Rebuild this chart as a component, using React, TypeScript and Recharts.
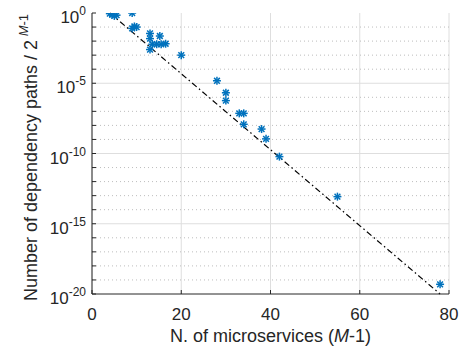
import React from 'react';
import {
  CartesianGrid,
  ReferenceLine,
  Scatter,
  ScatterChart,
  XAxis,
  YAxis,
} from 'recharts';

// observed systems: N. of microservices (M-1) vs normalised dependency paths
const microservices = [
  4, 4.5, 5, 5.5, 9, 9, 9.5, 10, 13, 13, 13, 13.5, 14.5, 15.5, 16.5, 15.2, 20,
  28, 30, 30, 33, 34, 34, 38, 39, 42, 55, 78,
];
const pathRatio = [
  0.9, 0.78, 0.62, 0.7, 1, 0.08, 0.11, 0.1, 0.035, 0.015, 0.0025, 0.006, 0.006, 0.006, 0.0065, 0.023, 0.001,
  1.5e-5, 2.1e-6, 5.8e-7, 7.2e-8, 7.2e-8, 1.2e-8, 5.5e-9, 1.1e-9, 6e-11, 8.5e-14, 4.9e-20,
];

// dash-dot reference trend
const fitX = [4, 78];
const fitY = [1, 1e-20];

const xTicks = [0, 20, 40, 60, 80];
const decades = [0, -1, -2, -3, -4, -5, -6, -7, -8, -9, -10, -11, -12, -13, -14, -15, -16, -17, -18, -19, -20];
const yTicks = decades.map((e) => Math.pow(10, e));

const points = microservices.map((x, i) => ({ x, y: pathRatio[i] }));

const FONT = '"Liberation Sans", Arial, sans-serif';
const INK = '#262626';
const BLUE = '#0072BD';

const Asterisk = (props: any) => {
  const { cx, cy } = props;
  if (cx == null || cy == null) return null;
  const r = 4;
  const d = r * 0.72;
  return (
    <g stroke={BLUE} strokeWidth={1.5}>
      <line x1={cx - r} y1={cy} x2={cx + r} y2={cy} />
      <line x1={cx} y1={cy - r} x2={cx} y2={cy + r} />
      <line x1={cx - d} y1={cy - d} x2={cx + d} y2={cy + d} />
      <line x1={cx - d} y1={cy + d} x2={cx + d} y2={cy - d} />
    </g>
  );
};

const LeftTick = ({ x, y, payload }: any) => {
  const e = Math.round(Math.log10(payload.value));
  const major = e % 5 === 0;
  return (
    <g>
      <line x1={x} x2={x + 4} y1={y} y2={y} stroke={INK} />
      {major && (
        <text x={x - 6} y={y + 10} textAnchor="end" fontSize={17} fill={INK} fontFamily={FONT}>
          <tspan>10</tspan>
          <tspan dy={-8} fontSize={12}>{e}</tspan>
        </text>
      )}
    </g>
  );
};

const RightTick = ({ x, y }: any) => <line x1={x} x2={x - 4} y1={y} y2={y} stroke={INK} />;

const BottomTick = ({ x, y, payload }: any) => (
  <g>
    <line x1={x} x2={x} y1={y} y2={y - 4} stroke={INK} />
    <text x={x} y={y + 26} textAnchor="middle" fontSize={17} fill={INK} fontFamily={FONT}>
      {payload.value}
    </text>
  </g>
);

const TopTick = ({ x, y }: any) => <line x1={x} x2={x} y1={y} y2={y + 4} stroke={INK} />;

const XTitle = ({ viewBox }: any) => {
  const cx = viewBox.x + viewBox.width / 2;
  return (
    <text x={cx} y={viewBox.y + 48} textAnchor="middle" fontSize={18} fill={INK} fontFamily={FONT}>
      N. of microservices (<tspan fontStyle="italic">M</tspan>-1)
    </text>
  );
};

const YTitle = ({ viewBox }: any) => {
  const x = 37;
  const y = viewBox.y + viewBox.height / 2 + 4;
  return (
    <text x={x} y={y} transform={`rotate(-90, ${x}, ${y})`} textAnchor="middle" fontSize={18} fill={INK} fontFamily={FONT}>
      Number of dependency paths / 2
      <tspan dy={-9} fontSize={13}> </tspan>
      <tspan fontSize={13} fontStyle="italic">M</tspan>
      <tspan fontSize={13}>-1</tspan>
    </text>
  );
};

export default function App() {
  return (
    <div style={{ position: 'absolute', left: 0, top: 0, background: '#fff' }}>
      <ScatterChart width={464} height={351} margin={{ top: 13, right: 15, bottom: 0, left: 0 }}>
        <CartesianGrid horizontal={false} stroke="#dedede" strokeWidth={1} xAxisId="b" yAxisId="l" />
        <XAxis
          xAxisId="b"
          dataKey="x"
          type="number"
          domain={[0, 80]}
          ticks={xTicks}
          allowDataOverflow
          height={57}
          tickSize={0}
          tickMargin={0}
          tick={<BottomTick />}
          axisLine={{ stroke: INK }}
          tickLine={false}
          label={<XTitle />}
        />
        <XAxis
          xAxisId="t"
          orientation="top"
          type="number"
          domain={[0, 80]}
          ticks={xTicks}
          height={0}
          tickSize={0}
          tickMargin={0}
          tick={<TopTick />}
          axisLine={{ stroke: INK }}
          tickLine={false}
        />
        <YAxis
          yAxisId="l"
          dataKey="y"
          type="number"
          scale="log"
          domain={[1e-20, 1]}
          ticks={yTicks}
          allowDataOverflow
          interval={0}
          width={92}
          tickSize={0}
          tickMargin={0}
          tick={<LeftTick />}
          axisLine={{ stroke: INK }}
          tickLine={false}
          label={<YTitle />}
        />
        <YAxis
          yAxisId="r"
          orientation="right"
          type="number"
          scale="log"
          domain={[1e-20, 1]}
          ticks={yTicks}
          allowDataOverflow
          interval={0}
          width={0}
          tickSize={0}
          tickMargin={0}
          tick={<RightTick />}
          axisLine={{ stroke: INK }}
          tickLine={false}
        />
        {decades.slice(1, -1).map((e) => (
          <ReferenceLine
            key={e}
            xAxisId="b"
            yAxisId="l"
            y={Math.pow(10, e)}
            stroke={e % 5 === 0 ? '#dedede' : '#bdbdbd'}
            strokeDasharray={e % 5 === 0 ? undefined : '1 3'}
          />
        ))}
        <ReferenceLine
          xAxisId="b"
          yAxisId="l"
          segment={[
            { x: fitX[0], y: fitY[0] },
            { x: fitX[1], y: fitY[1] },
          ]}
          stroke="#000"
          strokeWidth={1.2}
          strokeDasharray="6 3 1.5 3"
        />
        <Scatter
          xAxisId="b"
          yAxisId="l"
          data={points}
          shape={<Asterisk />}
          isAnimationActive={false}
        />
      </ScatterChart>
    </div>
  );
}
